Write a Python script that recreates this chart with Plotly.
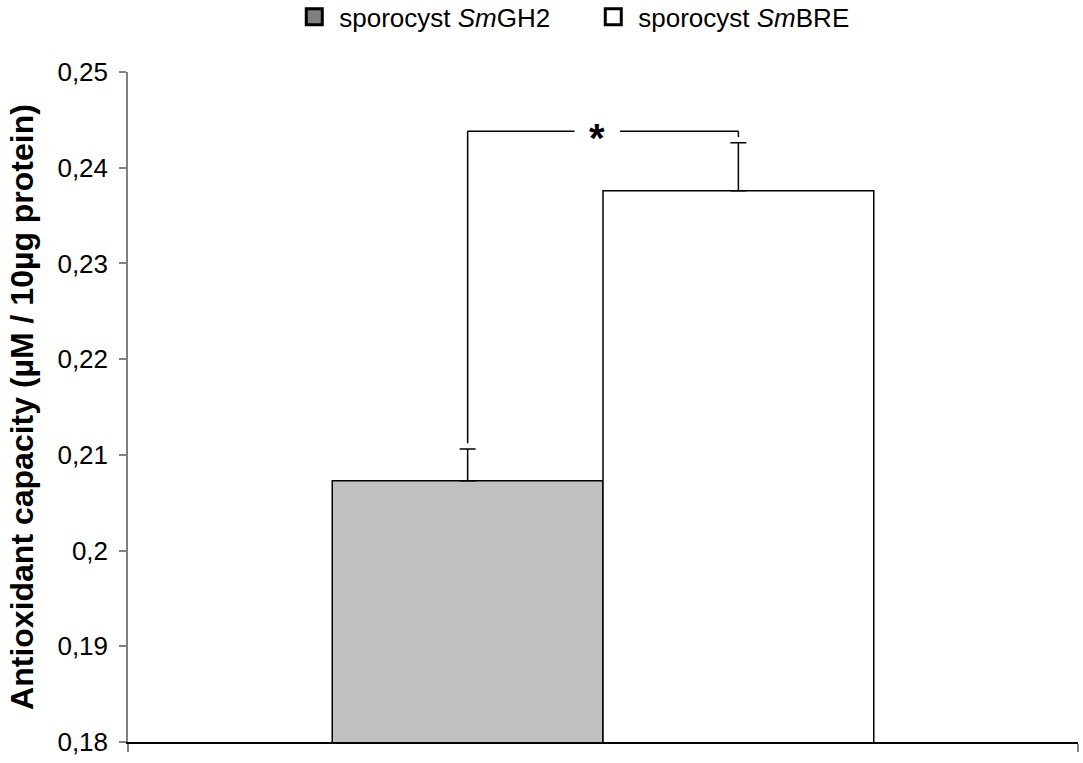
import plotly.graph_objects as go

# ---- data ----
series_names = ["sporocyst <i>Sm</i>GH2", "sporocyst <i>Sm</i>BRE"]
values = [0.2073, 0.2376]
errors = [0.0033, 0.0050]
bar_colors = ["#c0c0c0", "#ffffff"]
legend_colors = ["#808080", "#ffffff"]
tick_values = [0.18, 0.19, 0.20, 0.21, 0.22, 0.23, 0.24, 0.25]
tick_labels = ["0,18", "0,19", "0,2", "0,21", "0,22", "0,23", "0,24", "0,25"]
sig_label = "*"

FONT = "Liberation Sans, Arial, sans-serif"
bargap = 0.43
bar_w = (1 - bargap) / 2
centers = [-bar_w / 2, bar_w / 2]

fig = go.Figure()
for i in range(2):
    fig.add_trace(go.Bar(
        x=[0], y=[values[i]], name=series_names[i], showlegend=False,
        marker=dict(color=bar_colors[i], line=dict(color="black", width=1.5)),
        error_y=dict(type="data", symmetric=False, array=[errors[i]], arrayminus=[0],
                     color="black", thickness=1.5, width=8),
    ))
for i in range(2):
    fig.add_trace(go.Scatter(
        x=[None], y=[None], mode="markers", name=series_names[i],
        marker=dict(symbol="square", size=16, color=legend_colors[i],
                    line=dict(color="black", width=3)),
    ))

# significance bracket
top = max(values[i] + errors[i] for i in range(2)) + 0.0012
gap = 0.0006
x1, x2 = centers
mid = (x1 + x2) / 2 - 0.006
half_gap = 0.024
line = dict(color="black", width=1.5)
fig.add_shape(type="line", x0=x1, x1=x1, y0=values[0] + errors[0] + gap, y1=top, line=line)
fig.add_shape(type="line", x0=x1, x1=mid - half_gap, y0=top, y1=top, line=line)
fig.add_shape(type="line", x0=mid + half_gap, x1=x2, y0=top, y1=top, line=line)
fig.add_shape(type="line", x0=x2, x1=x2, y0=values[1] + errors[1] + gap, y1=top, line=line)
fig.add_annotation(x=mid, y=top, text="<b>" + sig_label + "</b>", showarrow=False,
                   font=dict(size=40, family=FONT, color="black"), yshift=-7)

fig.update_layout(
    width=1083, height=763,
    margin=dict(l=128, r=5, t=72, b=21),
    paper_bgcolor="white", plot_bgcolor="white",
    barmode="group", bargap=bargap, bargroupgap=0,
    font=dict(family=FONT, size=26, color="black"),
    showlegend=True,
    legend=dict(orientation="h", x=0.4845, xanchor="center", y=0.978, yanchor="middle",
                yref="container", font=dict(size=26), itemwidth=40, entrywidth=244,
                tracegroupgap=0, bgcolor="rgba(0,0,0,0)"),
    xaxis=dict(range=[-0.5, 0.5], showline=True, linecolor="black", linewidth=1.5,
               showgrid=False, zeroline=False, tickvals=[-0.5, 0.5], ticktext=["", ""],
               ticks="outside", ticklen=8, tickcolor="#808080", tickwidth=2,
               automargin=False),
    yaxis=dict(range=[0.18, 0.25], tickvals=tick_values, ticktext=tick_labels,
               showline=True, linecolor="#808080", linewidth=1.5, showgrid=False,
               zeroline=False, ticks="outside", ticklen=7, tickcolor="#808080",
               tickwidth=1.5, tickfont=dict(size=26), ticklabelstandoff=6,
               automargin=False,
               title=dict(text="<b>Antioxidant capacity (µM / 10µg protein)</b>",
                          font=dict(size=32), standoff=14)),
)

fig.write_html("out.html", config={"displayModeBar": False},
               post_script="document.body.style.margin='0';")
